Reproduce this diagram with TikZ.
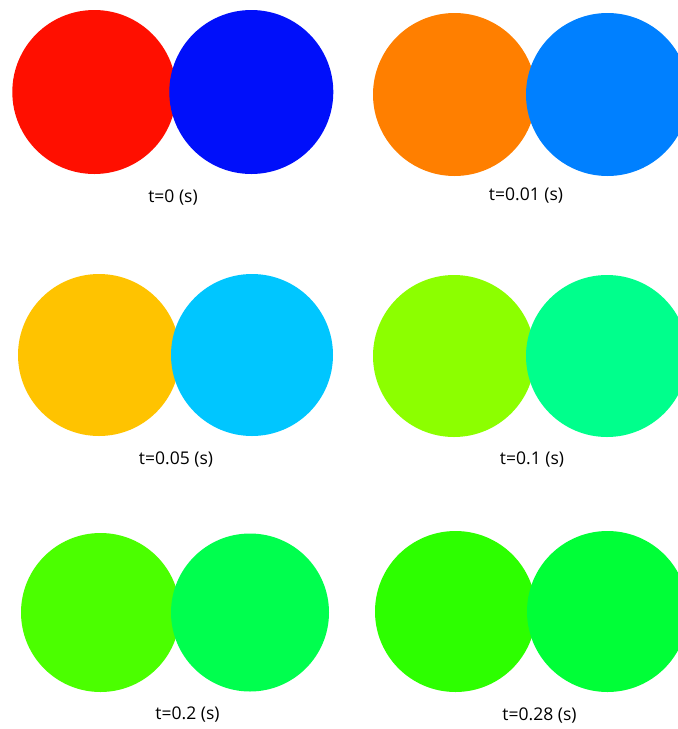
\documentclass[tikz,border=0pt]{standalone}
\usepackage{fontspec}
\setmainfont{Open Sans}
\usepackage{tikz}
\usetikzlibrary{positioning}

\definecolor{cA}{RGB}{255,15,0}
\definecolor{cB}{RGB}{0,15,250}
\definecolor{cC}{RGB}{255,127,0}
\definecolor{cD}{RGB}{0,128,255}
\definecolor{cE}{RGB}{255,195,0}
\definecolor{cF}{RGB}{0,198,255}
\definecolor{cG}{RGB}{140,255,0}
\definecolor{cH}{RGB}{0,255,140}
\definecolor{cI}{RGB}{75,255,0}
\definecolor{cJ}{RGB}{0,255,78}
\definecolor{cK}{RGB}{45,255,0}
\definecolor{cL}{RGB}{0,255,55}

\begin{document}
\begin{tikzpicture}[x=1pt, y=-1pt,
    ball/.style={circle, draw=none, inner sep=0pt, minimum size=#1},
    ball/.default=164pt,
    tlabel/.style={inner sep=0pt, font=\fontsize{17.5}{19}\selectfont}]
  \useasboundingbox (0,0) rectangle (678,729);
  \clip (0,0) rectangle (678,729);
  % t=0
  \node[ball, fill=cA] (p1a) at (94.3,92) {};
  \node[ball, fill=cB] (p1b) at (251.3,92) {};
  \node[tlabel] (t1) at (173,197.5) {t=0 (s)};
  % t=0.01
  \node[ball=163pt, fill=cC] (p2a) at (454.5,94.5) {};
  \node[ball=163pt, fill=cD] (p2b) at (607.5,94.5) {};
  \node[tlabel] (t2) at (526,196) {t=0.01 (s)};
  % t=0.05
  \node[ball=162pt, fill=cE] (p3a) at (99,355) {};
  \node[ball=162pt, fill=cF] (p3b) at (252,355) {};
  \node[tlabel] (t3) at (176,460) {t=0.05 (s)};
  % t=0.1
  \node[ball=162pt, fill=cG] (p4a) at (454,356) {};
  \node[ball=162pt, fill=cH] (p4b) at (607,356) {};
  \node[tlabel] (t4) at (532,460) {t=0.1 (s)};
  % t=0.2
  \node[ball=159pt, fill=cI] (p5a) at (100.5,612.5) {};
  \node[ball=158pt, fill=cJ] (p5b) at (250,612.5) {};
  \node[tlabel] (t5) at (187.5,714.5) {t=0.2 (s)};
  % t=0.28
  \node[ball=161pt, fill=cK] (p6a) at (455.5,611.5) {};
  \node[ball=161pt, fill=cL] (p6b) at (607.5,611.5) {};
  \node[tlabel] (t6) at (539.5,716) {t=0.28 (s)};
\end{tikzpicture}
\end{document}
